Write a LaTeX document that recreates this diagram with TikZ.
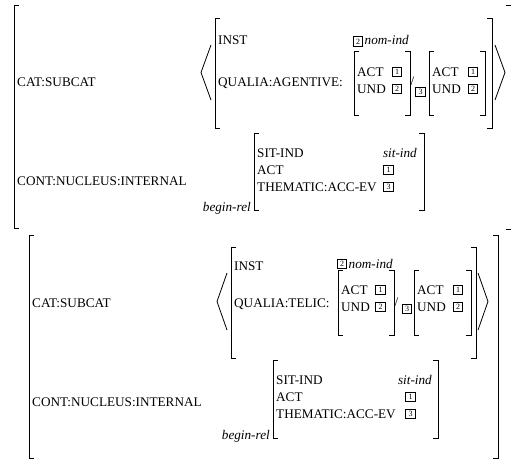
\documentclass[tikz,border=0pt]{standalone}
\usepackage{fontspec}
\setmainfont{Liberation Serif}
\begin{document}
\begin{tikzpicture}[x=1pt,y=-1pt,
  txt/.style={anchor=base west,inner sep=0pt,font=\fontsize{13.2}{16}\selectfont},
  itx/.style={anchor=base west,inner sep=0pt,font=\fontsize{13.2}{16}\selectfont\itshape},
  itr/.style={anchor=base east,inner sep=0pt,font=\fontsize{13.2}{16}\selectfont\itshape},
  numbox/.style={draw,line width=1.3pt,minimum size=9.5pt,inner sep=0pt,font=\fontsize{8}{8}\selectfont},
  brk/.style={line width=0.8pt},
  obrk/.style={line width=1pt}]
\useasboundingbox (0,0) rectangle (511,460);
% ================= FIGURE 1 =================
\draw[obrk] (19,6) -- (14,6) -- (14,228) -- (19,228);
\draw[obrk] (506,6) -- (512,6);
\draw[obrk] (506,229) -- (512,229);
\node[txt] (cat1) at (17,86.5) {CAT:SUBCAT};
\node[txt] (cont1) at (17,185.5) {CONT:NUCLEUS:INTERNAL};
\draw[brk] (211,45) -- (201,72.5) -- (211,100);
\draw[brk] (220,18) -- (215,18) -- (215,128) -- (220,128);
\draw[brk] (487,18) -- (492,18) -- (492,128) -- (487,128);
\node[txt] (inst1) at (218,44.5) {INST};
\node[txt] (qual1) at (218,86.5) {QUALIA:AGENTIVE:};
\node[numbox] (b1a) at (358,41.5) {2};
\node[itx] (nom1) at (364.5,45) {nom-ind};
\draw[brk] (359,51) -- (354,51) -- (354,115) -- (359,115);
\draw[brk] (405,51) -- (410,51) -- (410,115) -- (405,115);
\node[txt] (act1a) at (357,76.5) {ACT};
\node[txt] (und1a) at (357,93.5) {UND};
\node[numbox] (b1b) at (397,72) {1};
\node[numbox] (b1c) at (397,89) {2};
\node[txt,anchor=center] (sl1) at (412.5,81) {/};
\node[numbox] (b1d) at (420.5,92) {3};
\draw[brk] (434,51) -- (429,51) -- (429,115) -- (434,115);
\draw[brk] (480,51) -- (485,51) -- (485,115) -- (480,115);
\node[txt] (act1b) at (432,76.5) {ACT};
\node[txt] (und1b) at (432,93.5) {UND};
\node[numbox] (b1e) at (473,72) {1};
\node[numbox] (b1f) at (473,89) {2};
\draw[brk] (495,45) -- (505,72.5) -- (495,100);
\draw[brk] (259,133) -- (254,133) -- (254,210) -- (259,210);
\draw[brk] (419,133) -- (424,133) -- (424,210) -- (419,210);
\node[itr] (rel1) at (251,211) {begin-rel};
\node[txt] (sit1) at (257,157.5) {SIT-IND};
\node[itr] (siv1) at (417,157.5) {sit-ind};
\node[txt] (act1c) at (257,174.5) {ACT};
\node[numbox] (b1g) at (388.5,170) {1};
\node[txt] (thm1) at (257,191.5) {THEMATIC:ACC-EV};
\node[numbox] (b1h) at (388.5,187) {3};
% ================= FIGURE 2 =================
\draw[obrk] (34,235) -- (29,235) -- (29,458) -- (34,458);
\draw[obrk] (493,235) -- (498,235) -- (498,458) -- (493,458);
\node[txt] (cat2) at (32,307.5) {CAT:SUBCAT};
\node[txt] (cont2) at (32,406.5) {CONT:NUCLEUS:INTERNAL};
\draw[brk] (227,273) -- (217,301.5) -- (227,330);
\draw[brk] (236,247) -- (231,247) -- (231,358) -- (236,358);
\draw[brk] (471,247) -- (476,247) -- (476,358) -- (471,358);
\node[txt] (inst2) at (234,270.5) {INST};
\node[txt] (qual2) at (234,307.5) {QUALIA:TELIC:};
\node[numbox] (b2a) at (342,264) {2};
\node[itx] (nom2) at (348.5,268) {nom-ind};
\draw[brk] (343,270) -- (338,270) -- (338,335) -- (343,335);
\draw[brk] (389,270) -- (394,270) -- (394,335) -- (389,335);
\node[txt] (act2a) at (341,294.5) {ACT};
\node[txt] (und2a) at (341,311.5) {UND};
\node[numbox] (b2b) at (380.5,290) {1};
\node[numbox] (b2c) at (380.5,307) {2};
\node[txt,anchor=center] (sl2) at (396.5,302) {/};
\node[numbox] (b2d) at (407,309) {3};
\draw[brk] (419,270) -- (414,270) -- (414,335) -- (419,335);
\draw[brk] (466,270) -- (471,270) -- (471,335) -- (466,335);
\node[txt] (act2b) at (417,294.5) {ACT};
\node[txt] (und2b) at (417,311.5) {UND};
\node[numbox] (b2e) at (458,290) {1};
\node[numbox] (b2f) at (458,307) {2};
\draw[brk] (478,273) -- (488,301.5) -- (478,330);
\draw[brk] (278,360) -- (273,360) -- (273,438) -- (278,438);
\draw[brk] (433,360) -- (438,360) -- (438,438) -- (433,438);
\node[itr] (rel2) at (270,439) {begin-rel};
\node[txt] (sit2) at (276,384.5) {SIT-IND};
\node[itr] (siv2) at (432,384.5) {sit-ind};
\node[txt] (act2c) at (276,401.5) {ACT};
\node[numbox] (b2g) at (410.5,397) {1};
\node[txt] (thm2) at (276,418.5) {THEMATIC:ACC-EV};
\node[numbox] (b2h) at (410.5,414) {3};
\end{tikzpicture}
\end{document}
